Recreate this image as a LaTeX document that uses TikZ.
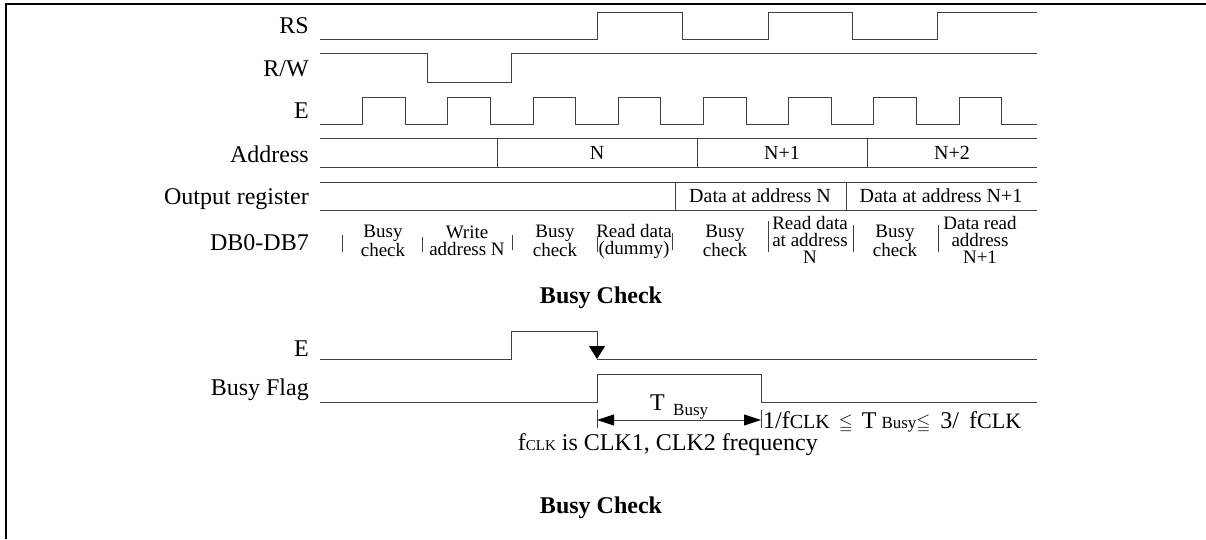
\documentclass[tikz,border=0pt]{standalone}
\usepackage{fontspec}
\usepackage{amssymb}
\setmainfont{Liberation Serif}
\usetikzlibrary{arrows.meta}
\newcommand{\sz}[1]{\fontsize{#1}{#1}\selectfont}
\tikzset{
  sig/.style={line width=1pt,draw=black!75},
  lbl/.style={anchor=base east,inner sep=0pt,font=\sz{24}},
  cell/.style={anchor=base,inner sep=0pt,font=\sz{20}},
  dbtxt/.style={align=center,inner sep=0pt,font=\fontsize{19}{17}\selectfont},
  ttl/.style={anchor=base,inner sep=0pt,font=\sz{24}\bfseries},
  edgetip/.tip={Triangle[width=16pt,length=13pt,color=black]},
  dimtip/.tip={Triangle[width=11pt,length=17pt,color=black]},
}
\begin{document}
\begin{tikzpicture}[x=1pt,y=-1pt]
\useasboundingbox (0,0) rectangle (1206,539);
% frame
\draw[line width=1.2pt] (6,539) -- (6,4) -- (1206,4);

% signal names, upper chart
\node[lbl] (nrs) at (309,33) {RS};
\node[lbl] (nrw) at (309,76) {R/W};
\node[lbl] (ne) at (309,118) {E};
\node[lbl] (nadr) at (309,162) {Address};
\node[lbl] (nout) at (309,204) {Output register};
\node[lbl] (ndb) at (309,250) {DB0-DB7};

% RS and R/W
\draw[sig] (320,39) -- (597,39) -- (597,12) -- (682,12) -- (682,39) -- (768,39)
  -- (768,12) -- (852,12) -- (852,39) -- (937,39) -- (937,12) -- (1037,12);
\draw[sig] (320,53) -- (427,53) -- (427,82) -- (511,82) -- (511,53) -- (1037,53);

% E clock
\draw[sig] (320,124) \foreach \i in {0,...,7} {
  -- ({320+42.6*(2*\i+1)},124) -- ({320+42.6*(2*\i+1)},97)
  -- ({320+42.6*(2*\i+2)},97) -- ({320+42.6*(2*\i+2)},124)} -- (1037,124);

% address bus
\draw[sig] (320,138) -- (1037,138);
\draw[sig] (320,167) -- (1037,167);
\foreach \x in {497,697,867} \draw[sig] (\x,138) -- (\x,167);
\node[cell] (an) at (597,159) {N};
\node[cell] (an1) at (782,159) {N+1};
\node[cell] (an2) at (952,159) {N+2};

% output register
\draw[sig] (320,182) -- (1037,182);
\draw[sig] (320,210) -- (1037,210);
\foreach \x in {675,846} \draw[sig] (\x,182) -- (\x,210);
\node[cell] (od0) at (760,202) {Data at address N};
\node[cell] (od1) at (941,202) {Data at address N+1};

% DB0-DB7 phases
\foreach \x/\ya/\yb in {342/235/252,422/237/252,512/235/250,597/237/252,
  672/233/250,768/221/252,853/225/252,938/225/252}
  \draw[sig] (\x,\ya) -- (\x,\yb);
\node[dbtxt] (db1) at (383,241) {Busy\\check};
\node[dbtxt] (db2) at (467,241) {Write\\address N};
\node[dbtxt] (db3) at (555,241) {Busy\\check};
\node[dbtxt] (db4) at (634,241) {Read data\\(dummy)};
\node[dbtxt] (db5) at (725,241) {Busy\\check};
\node[dbtxt] (db6) at (810,240) {Read data\\at address\\N};
\node[dbtxt] (db7) at (895,241) {Busy\\check};
\node[dbtxt] (db8) at (980,240) {Data read\\address\\N+1};

\node[ttl] (t1) at (601,303) {Busy Check};

% lower chart
\node[lbl] (ne2) at (309,356) {E};
\node[lbl] (nbf) at (309,395) {Busy Flag};
\draw[sig] (320,359) -- (511,359) -- (511,331) -- (597,331);
\draw[sig,-edgetip] (597,331) -- (597,359);
\draw[sig] (597,359) -- (1037,359);
\draw[sig] (320,402) -- (597,402) -- (597,374) -- (761,374) -- (761,402) -- (1037,402);

% busy time
\coordinate (tb0) at (597,420);
\coordinate (tb1) at (761,420);
\draw[sig] (597,410) -- (597,428);
\draw[sig] (761,410) -- (761,428);
\draw[sig,dimtip-dimtip] (tb0) -- (tb1);
\node[anchor=base west,inner sep=0pt,font=\sz{24}] (tt) at (650,410) {T};
\node[anchor=base west,inner sep=0pt,font=\sz{17}] (ttb) at (673,415) {Busy};
\node[anchor=base west,inner sep=0pt,font=\sz{24}] (trange) at (763,428)
  {1/f{\sz{20}CLK}\hspace{9pt}{\sz{18}$\leqq$}\hspace{9pt}T\hspace{5pt}{\sz{17}Busy}{\sz{18}$\leqq$}\hspace{10pt}3/\hspace{10pt}f{\sz{22}CLK}};
\node[anchor=base east,inner sep=0pt,font=\sz{24}] (tfclk) at (818,450)
  {f{\sz{15}CLK} is CLK1, CLK2 frequency};

\node[ttl] (t2) at (601,513) {Busy Check};
\end{tikzpicture}
\end{document}
